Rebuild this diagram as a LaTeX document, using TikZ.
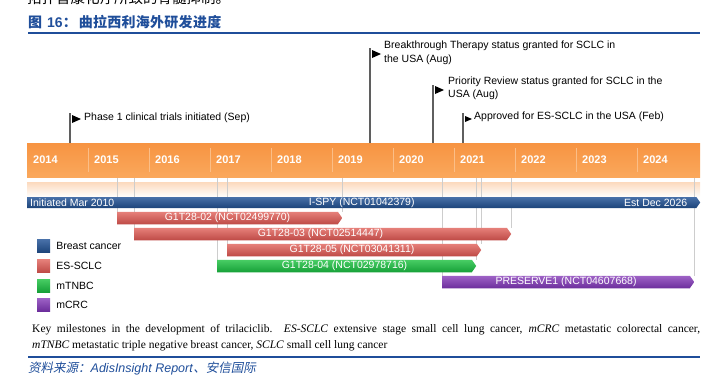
\documentclass[tikz,border=0pt]{standalone}
\usepackage{fontspec}
\setmainfont{Liberation Sans}
\newfontfamily\capfont{Liberation Serif}
\newfontfamily\cjk{Noto Sans CJK SC}
\newfontfamily\cjkspaced[LetterSpace=2]{Noto Sans CJK SC}
\newfontfamily\cjkslant[FakeSlant=0.2]{Noto Sans CJK SC}
\usetikzlibrary{shapes.symbols, positioning, backgrounds}

\definecolor{titleblue}{RGB}{31,78,154}
\definecolor{axistop}{RGB}{247,148,66}
\definecolor{axisbot}{RGB}{250,168,92}
\definecolor{yearsep}{RGB}{251,190,135}
\definecolor{bandpeach}{RGB}{252,218,190}
\definecolor{ispytop}{RGB}{72,112,168}
\definecolor{ispybot}{RGB}{28,68,122}
\definecolor{sclctop}{RGB}{230,128,122}
\definecolor{sclcbot}{RGB}{190,74,70}
\definecolor{tnbctop}{RGB}{72,205,100}
\definecolor{tnbcbot}{RGB}{22,160,56}
\definecolor{crctop}{RGB}{158,98,198}
\definecolor{crcbot}{RGB}{108,46,156}
\definecolor{guidegray}{RGB}{205,205,205}
\definecolor{poledark}{RGB}{95,95,95}

\tikzset{
  trial/.style={signal, signal to=east, signal pointer angle=110,
    minimum height=12.5pt, inner sep=0pt, text height=7.6pt, text depth=2pt,
    text=white, font=\fontsize{10.5}{12}\selectfont, anchor=west},
  breast/.style={trial, top color=ispytop, bottom color=ispybot},
  sclc/.style={trial, top color=sclctop, bottom color=sclcbot},
  tnbc/.style={trial, top color=tnbctop, bottom color=tnbcbot},
  crc/.style={trial, top color=crctop, bottom color=crcbot},
  bartext/.style={inner sep=0pt, text=white, font=\fontsize{10.5}{12}\selectfont},
  yearlabel/.style={anchor=west, inner sep=0pt, text=white,
    font=\bfseries\fontsize{11}{13}\selectfont},
  guide/.style={draw=guidegray, line width=0.6pt},
  pole/.style={draw=poledark, line width=1.3pt},
  milestone/.style={anchor=west, align=left, inner sep=0pt,
    font=\fontsize{10.5}{13.5}\selectfont},
  legendbox/.style={minimum size=13pt, inner sep=0pt},
  legendtext/.style={inner sep=0pt, font=\fontsize{10.5}{12}\selectfont},
}

\begin{document}
\begin{tikzpicture}[x=1pt, y=-1pt]
  \useasboundingbox (0,0) rectangle (708,380);

  % Header
  \node[anchor=base west, inner sep=0pt, font=\cjk\fontsize{14.5}{16}\selectfont] (prev) at (27,3) {拓扑替康化疗所致的骨髓抑制。};
  \node[anchor=west, inner sep=0pt, text=titleblue, font=\fontsize{14}{16}\selectfont] (title) at (28,22)
    {{\cjk\bfseries 图}\hspace{5pt}{\bfseries 16}{\cjk\bfseries ：}\hspace{2pt}{\cjkspaced\bfseries 曲拉西利海外研发进度}};
  \draw[titleblue, line width=1.2pt] (28,33) -- (700,33);

  % Time axis
  \node[anchor=north west, minimum width=673pt, minimum height=34pt, inner sep=0pt,
    top color=axistop, bottom color=axisbot] (axis) at (27,143) {};
  \foreach \k in {1,...,10}
    \draw[yearsep, line width=0.7pt] (27+61*\k,148) -- (27+61*\k,172);
  \foreach \yr [count=\k from 0] in {2014,...,2024}
    \node[yearlabel] (y\yr) at (33+61*\k,160) {\yr};

  \begin{scope}[on background layer]
    \fill[white] (axis.south west) rectangle ([yshift=-5pt]axis.south east);
    \node[anchor=north west, minimum width=673pt, minimum height=15pt, inner sep=0pt,
      top color=bandpeach, bottom color=white] (band) at (27,182) {};
  \end{scope}

  % Trials
  \node[breast, minimum width=673pt, minimum height=11pt] (ispy) at (27,202.5) {I-SPY (NCT01042379)};
  \node[bartext, anchor=west] (ispystart) at ([xshift=3pt]ispy.west) {Initiated Mar 2010};
  \node[bartext, anchor=east] (ispyend) at ([xshift=-13pt]ispy.east) {Est Dec 2026};

  \node[sclc, minimum width=225pt] (g02) at (117,218) {G1T28-02 (NCT02499770)};
  \node[sclc, minimum width=377pt] (g03) at (134,234) {G1T28-03 (NCT02514447)};
  \node[sclc, minimum width=254pt] (g05) at (227,250) {G1T28-05 (NCT03041311)};
  \node[tnbc, minimum width=259pt] (g04) at (217,266) {G1T28-04 (NCT02978716)};
  \node[crc, minimum width=252pt] (pres) at (442,282) {PRESERVE1 (NCT04607668)};

  \begin{scope}[on background layer]
    \foreach \bar in {g02,g03,g05,g04,pres} {
      \draw[guide] (\bar.west |- \bar.north) -- (\bar.west |- axis.south);
      \draw[guide] (\bar.east |- \bar.north) -- (\bar.east |- axis.south);
    }
  \end{scope}

  % Milestones
  \coordinate (ph1) at (70,143);
  \coordinate (btd) at (370,143);
  \coordinate (prv) at (433,143);
  \coordinate (apv) at (463,143);
  \draw[pole] (ph1) -- ++(0,-30) coordinate (ph1top);
  \draw[pole] (btd) -- ++(0,-95) coordinate (btdtop);
  \draw[pole] (prv) -- ++(0,-58) coordinate (prvtop);
  \draw[pole] (apv) -- ++(0,-30) coordinate (apvtop);
  \fill (ph1top) ++(2,2) -- ++(0,8) -- ++(9,-4) -- cycle;
  \fill (btdtop) ++(2,2) -- ++(0,8) -- ++(9,-4) -- cycle;
  \fill (prvtop) ++(2,1) -- ++(0,8) -- ++(9,-4) -- cycle;
  \fill (apvtop) ++(2,3) -- ++(0,6) -- ++(7,-3) -- cycle;
  \node[milestone] (ph1txt) at (84,118) {Phase 1 clinical trials initiated (Sep)};
  \node[milestone] (btdtxt) at (384,53) {Breakthrough Therapy status granted for SCLC in\\the USA (Aug)};
  \node[milestone] (prvtxt) at (448,88.5) {Priority Review status granted for SCLC in the\\USA (Aug)};
  \node[milestone] (apvtxt) at (474,117) {Approved for ES-SCLC in the USA (Feb)};

  % Legend
  \foreach \name/\ct/\cb/\y [count=\i] in {Breast cancer/ispytop/ispybot/246,
      ES-SCLC/sclctop/sclcbot/266, mTNBC/tnbctop/tnbcbot/285.5, mCRC/crctop/crcbot/304.5} {
    \node[legendbox, top color=\ct, bottom color=\cb] (lgbox\i) at (43.5,\y) {};
    \node[legendtext, anchor=west, right=6pt of lgbox\i] (lgtxt\i) {\name};
  }

  % Caption and source
  \node[anchor=north west, text width=668pt, align=justify, inner sep=0pt,
    font=\capfont\fontsize{11.5}{16}\selectfont] (cap) at (32,324)
    {Key milestones in the development of trilaciclib. \textit{ES-SCLC} extensive stage small cell lung cancer, \textit{mCRC} metastatic colorectal cancer,\linebreak
     \textit{mTNBC} metastatic triple negative breast cancer, \textit{SCLC} small cell lung cancer};
  \draw[titleblue, line width=1.2pt] (28,357) -- (700,357);
  \node[anchor=west, inner sep=0pt, text=titleblue, font=\fontsize{12.5}{14}\selectfont] (src) at (28,369)
    {{\cjkslant 资料来源：}\textit{AdisInsight Report}{\cjkslant 、安信国际}};
\end{tikzpicture}
\end{document}
